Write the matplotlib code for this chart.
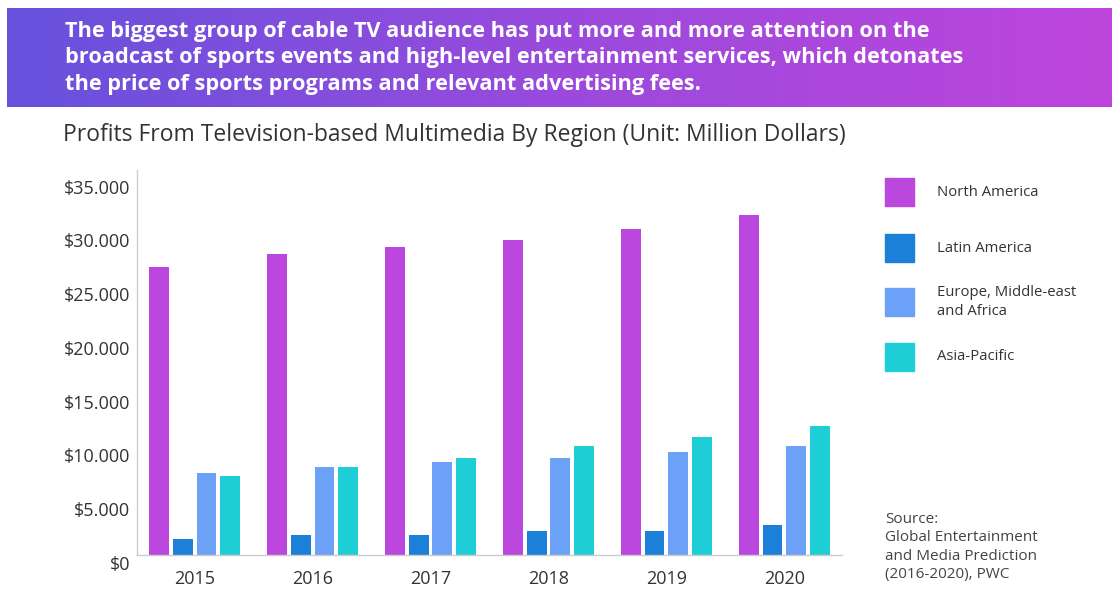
import numpy as np
import matplotlib
matplotlib.use("Agg")
import matplotlib.pyplot as plt
from matplotlib.colors import LinearSegmentedColormap
from matplotlib.transforms import ScaledTranslation

# ---- data ----
years = ["2015", "2016", "2017", "2018", "2019", "2020"]
regions = ["North America", "Latin America", "Europe, Middle-east\nand Africa", "Asia-Pacific"]
north_america = [26750, 28000, 28600, 29300, 30300, 31600]
latin_america = [1500, 1850, 1850, 2250, 2250, 2750]
emea = [7650, 8150, 8650, 9000, 9550, 10150]
asia_pacific = [7300, 8150, 9000, 10150, 11000, 11950]
series = [north_america, latin_america, emea, asia_pacific]
colors = ["#BC47DE", "#1C80D8", "#6BA1F7", "#1ECED6"]
yticks = [0, 5000, 10000, 15000, 20000, 25000, 30000, 35000]
ytick_labels = ["$0", "$5.000", "$10.000", "$15.000", "$20.000", "$25.000", "$30.000", "$35.000"]

headline = ("The biggest group of cable TV audience has put more and more attention on the\n"
            "broadcast of sports events and high-level entertainment services, which detonates\n"
            "the price of sports programs and relevant advertising fees.")
subtitle = "Profits From Television-based Multimedia By Region (Unit: Million Dollars)"
source = "Source:\nGlobal Entertainment\nand Media Prediction\n(2016-2020), PWC"

plt.rcParams['font.family'] = ['Open Sans', 'DejaVu Sans']

W, H = 1112, 589
fig = plt.figure(figsize=(W / 100, H / 100), dpi=100)
fig.patch.set_facecolor("white")

# ---- banner ----
bx = fig.add_axes([7 / W, (H - 107) / H, 1 - 7 / W, 99 / H])
cmap = LinearSegmentedColormap.from_list("g", ["#6652DC", "#9A4ADC", "#BE45DC"])
grad = np.linspace(0, 1, 256).reshape(1, -1)
bx.imshow(grad, aspect="auto", cmap=cmap, extent=[0, 1, 0, 1])
bx.set_xlim(0, 1); bx.set_ylim(0, 1)
bx.axis("off")
fig.text(65 / W, (H - 58) / H, headline, color="white", fontsize=15.7, fontweight="bold",
         va="center", ha="left", linespacing=1.32)

fig.text(63 / W, (H - 135) / H, subtitle, color="#333333", fontsize=16.5, va="center", ha="left")

# ---- chart ----
left, right, top, bottom = 137, 842, 170, 555
ax = fig.add_axes([left / W, (H - bottom) / H, (right - left) / W, (bottom - top) / H])
x = np.arange(len(years))
pitch = 0.2
bw = 0.168
for i, (vals, c) in enumerate(zip(series, colors)):
    ax.bar(x + (i - 1.5) * pitch, vals, width=bw, color=c, label=regions[i], zorder=2)

ax.set_xlim(-0.49, len(years) - 1 + 0.49)
ax.set_ylim(0, 35800)
ax.set_yticks(yticks)
ax.set_yticklabels(ytick_labels)
ax.set_xticks(x)
ax.set_xticklabels(years)
ax.tick_params(axis="y", length=0, labelsize=13, labelcolor="#333333", pad=5)
ax.tick_params(axis="x", length=0, labelsize=13, labelcolor="#333333", pad=11)
off = ScaledTranslation(0, -8 / 100, fig.dpi_scale_trans)
for lab in ax.get_yticklabels():
    lab.set_transform(lab.get_transform() + off)
for s in ["top", "right"]:
    ax.spines[s].set_visible(False)
for s in ["left", "bottom"]:
    ax.spines[s].set_color("#cccccc")
    ax.spines[s].set_linewidth(1)

# ---- legend ----
leg_y = [192, 248, 302, 357]
for c, lbl, yy in zip(colors, regions, leg_y):
    fig.patches.append(plt.Rectangle((885 / W, (H - yy - 14) / H), 29 / W, 28 / H,
                                     transform=fig.transFigure, color=c, figure=fig))
    fig.text(937 / W, (H - yy) / H, lbl, color="#333333", fontsize=10.7, va="center",
             ha="left", linespacing=1.3)

fig.text(885 / W, (H - 547) / H, source, color="#444444", fontsize=11, va="center",
         ha="left", linespacing=1.3)

fig.savefig("out.png", dpi=100)
